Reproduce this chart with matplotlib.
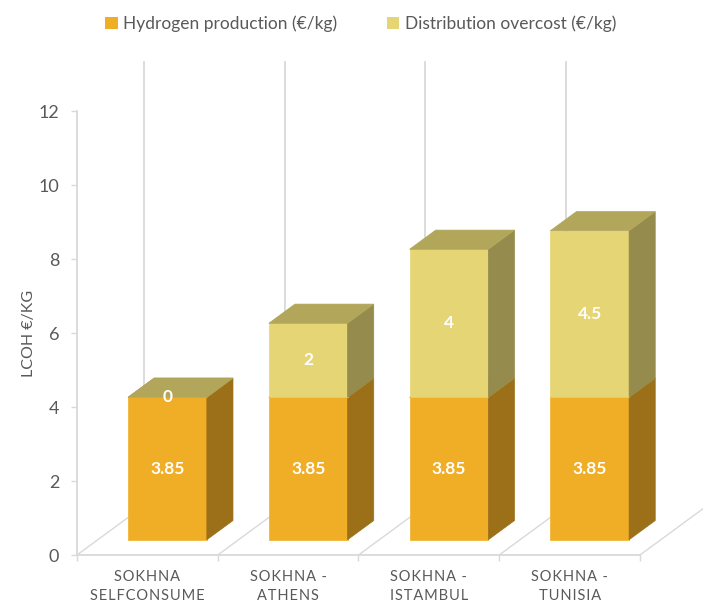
import numpy as np
import matplotlib.pyplot as plt
from matplotlib.patches import Patch, Polygon

# datos del grafico
categorias = ["SOKHNA\nSELFCONSUME", "SOKHNA -\nATHENS", "SOKHNA -\nISTAMBUL", "SOKHNA -\nTUNISIA"]
produccion = [3.85, 3.85, 3.85, 3.85]
distribucion = [0, 2, 4, 4.5]
series = ["Hydrogen production (€/kg)", "Distribution overcost (€/kg)"]
yticks = [0, 2, 4, 6, 8, 10, 12]

# colores (frente, lado, arriba)
c_prod = ("#F0AE27", "#9C6F19", "#B9912F")
c_dist = ("#E6D574", "#958B4C", "#B1A65A")
gris = "#D9D9D9"
texto = "#595959"

plt.rcParams['font.family'] = ['Lato', 'DejaVu Sans']

fig = plt.figure(figsize=(7.03, 6.06), dpi=100)
ax = fig.add_axes([77/703, 51/606, 563/703, 444/606])
ax.set_xlim(0, 4)
ax.set_ylim(0, 12)

# vector de profundidad (unidades de datos)
px, py = 0.476, 1.33
f0, f1 = 0.31, 0.70   # frente y fondo de las barras
b0, b1 = 0.215, 0.775  # ancho de barra dentro de la categoria


def caja(x0, x1, y0, y1, colores):
    fr, la, ar = colores
    ox0, oy0 = f0*px, f0*py
    ox1, oy1 = f1*px, f1*py
    frente = [(x0+ox0, y0+oy0), (x1+ox0, y0+oy0), (x1+ox0, y1+oy0), (x0+ox0, y1+oy0)]
    lado = [(x1+ox0, y0+oy0), (x1+ox1, y0+oy1), (x1+ox1, y1+oy1), (x1+ox0, y1+oy0)]
    arriba = [(x0+ox0, y1+oy0), (x1+ox0, y1+oy0), (x1+ox1, y1+oy1), (x0+ox1, y1+oy1)]
    for pts, c in [(frente, fr), (lado, la), (arriba, ar)]:
        ax.add_patch(Polygon(pts, closed=True, facecolor=c, edgecolor=c, lw=0.5, clip_on=False, zorder=3))


# pared del fondo y piso
n = len(categorias)
for i in range(n + 1):
    ax.plot([i + px, i + px], [py, 12 + py], color=gris, lw=1.3, clip_on=False, zorder=1)
    ax.plot([i, i + px], [0, py], color=gris, lw=1.0, clip_on=False, zorder=1)

for i in range(n):
    x0, x1 = i + b0, i + b1
    h = produccion[i]
    d = distribucion[i]
    caja(x0, x1, 0, h, c_prod)
    caja(x0, x1, h, h + d, c_dist)
    cx = (x0 + x1) / 2 + f0*px
    ax.text(cx, h/2 + f0*py, "%g" % h, color="white", fontsize=12.5, fontweight="bold",
            ha="center", va="center", zorder=5)
    ax.text(cx, h + d/2 + f0*py, "%g" % d, color="white", fontsize=12.5, fontweight="bold",
            ha="center", va="center", zorder=5)

# ejes
for s in ["top", "right"]:
    ax.spines[s].set_visible(False)
ax.spines["left"].set_color(gris)
ax.spines["bottom"].set_color(gris)
ax.spines["left"].set_linewidth(1.3)
ax.spines["bottom"].set_linewidth(1.3)
ax.set_yticks(yticks)
ax.tick_params(axis="y", colors=gris, length=4.3, width=1.0, pad=8.5, labelsize=13, labelcolor=texto)

etiquetas = ["\n".join("\u200a".join(linea) for linea in c.split("\n")) for c in categorias]
ax.set_xticks([i + 0.5 for i in range(n)])
ax.set_xticklabels(etiquetas, fontsize=10.5, color=texto, linespacing=1.45)
ax.set_xticks(range(n + 1), minor=True)
ax.tick_params(axis="x", which="major", length=0, pad=11)
ax.tick_params(axis="x", which="minor", length=4, color=gris, width=1.0)

ax.set_ylabel("LCOH €/KG", fontsize=11.5, color=texto)
ax.yaxis.set_label_coords(-0.072, 0.5)

handles = [Patch(facecolor=c_prod[0]), Patch(facecolor=c_dist[0])]
fig.legend(handles, series, loc="upper center", bbox_to_anchor=(0.513, 1.0), ncol=2,
           frameon=False, fontsize=12.5, handlelength=0.7, handleheight=0.7,
           handletextpad=0.3, columnspacing=2.9, labelcolor=texto)

fig.savefig("out.png", dpi=100)
